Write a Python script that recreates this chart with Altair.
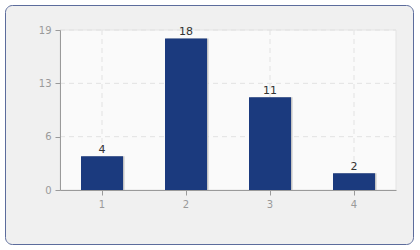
import altair as alt
import pandas as pd

categories = ["1", "2", "3", "4"]
counts = [4, 18, 11, 2]
y_max = 19
y_ticks = [0, 19 / 3, 38 / 3, 19]

W, H = 336, 160

df = pd.DataFrame({"cat": categories, "count": counts})
ticks_df = pd.DataFrame({"count": y_ticks[1:]})

axis_style = dict(
    title=None, grid=False, tickSize=5, labelPadding=4, zindex=1,
    domainColor="#9a9a9a", tickColor="#9a9a9a", labelColor="#9a9a9a",
    labelFont="DejaVu Sans", labelFontSize=10,
)

x_enc = alt.X(
    "cat:N",
    sort=categories,
    scale=alt.Scale(paddingInner=0.5, paddingOuter=0.25),
    axis=alt.Axis(labelAngle=0, bandPosition=0.5, **axis_style),
)
y_enc = alt.Y(
    "count:Q",
    scale=alt.Scale(domain=[0, y_max], nice=False, zero=True),
    axis=alt.Axis(values=y_ticks, labelExpr="round(datum.value)", **axis_style),
)

# rounded panel frame behind everything
frame = alt.Chart(pd.DataFrame({"k": [0]})).mark_rect(
    fill="#f0f0f0", stroke="#5c6c9c", strokeWidth=1, cornerRadius=7
).encode(
    x=alt.value(-54.5), x2=alt.value(353.5),
    y=alt.value(-24.5), y2=alt.value(214.5),
)

# plot area background
plot_bg = alt.Chart(pd.DataFrame({"k": [0]})).mark_rect(
    fill="#fafafa", stroke="#e4e4e4", strokeWidth=1
).encode(
    x=alt.value(0), x2=alt.value(W), y=alt.value(0), y2=alt.value(H)
)

base = alt.Chart(df)

# dashed grid lines
grid_v = base.mark_rule(color="#e2e2e2", strokeDash=[5, 4]).encode(
    x=x_enc, y=alt.value(0), y2=alt.value(H)
)
grid_h = alt.Chart(ticks_df).mark_rule(color="#e2e2e2", strokeDash=[5, 4]).encode(
    y=y_enc, x=alt.value(0), x2=alt.value(W)
)

shadow = base.mark_bar(color="#c4c4c4", xOffset=1.5).encode(x=x_enc, y=y_enc)

bars = base.mark_bar(color="#1b3a7e").encode(x=x_enc, y=y_enc)

labels = base.mark_text(
    baseline="bottom", dy=-1, font="DejaVu Sans", fontSize=11, color="#333333"
).encode(x=x_enc, y=y_enc, text="count:Q")

chart = alt.layer(frame, plot_bg, grid_v, grid_h, shadow, bars, labels).properties(
    width=W, height=H,
    autosize=alt.AutoSizeParams(type="none"),
    padding={"left": 60, "top": 30, "right": 24, "bottom": 60},
    background="white",
).configure_view(stroke=None)

chart.save("out.html", embed_options={"renderer": "svg", "actions": False})
